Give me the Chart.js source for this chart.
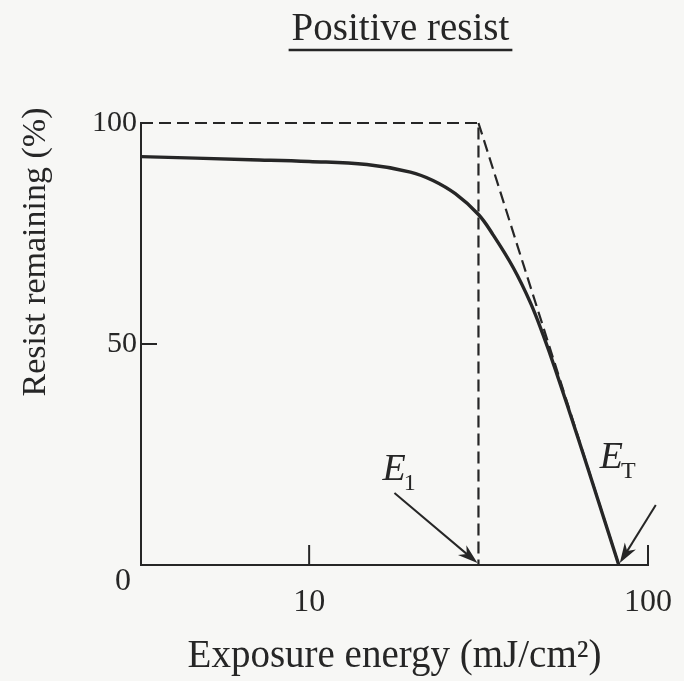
<!DOCTYPE html>
<html>
<head>
<meta charset="utf-8">
<script src="https://cdn.jsdelivr.net/npm/chart.js@4.4.1/dist/chart.umd.min.js"></script>
<style>
  html, body { margin: 0; padding: 0; background: #f7f7f5; }
  #wrap { width: 684px; height: 681px; }
</style>
</head>
<body>
<div id="wrap"><canvas id="resist-chart" width="684" height="681"></canvas></div>
<script>
// Exposure energy (mJ/cm^2) vs. resist thickness left after development (%)
const energy    = [3.19, 6.7, 10, 14.8, 19.9, 23.2, 27.0, 31.6, 34.9, 40.0, 45.0, 49.0, 53.3, 62.3, 71.2, 82.0];
const remaining = [92.4, 91.7, 91.3, 90.6, 88.9, 87.0, 84.0, 79.3, 74.7, 67.3, 59.3, 52.1, 44.2, 28.5, 14.7, 0];

// E1: onset of clearing, ET: dose to clear
const E1 = 31.6;
const ET = 82;

// ideal step response and the straight-line contrast fit
const idealEnergy    = [3.19, E1, E1];
const idealRemaining = [100, 100, 0];
const fitEnergy      = [E1, ET];
const fitRemaining   = [100, 0];

const xTicks = [10, 100];
const yTicks = [0, 50, 100];
const xRange = [3.19, 100];
const yRange = [0, 100];

const INK = '#262626';
const SERIF = '"Liberation Serif", "DejaVu Serif", serif';

function toPoints(xs, ys) {
  return xs.map((x, i) => ({ x: x, y: ys[i] }));
}

function drawArrow(ctx, x0, y0, x1, y1) {
  const ang = Math.atan2(y1 - y0, x1 - x0);
  const len = 20, half = 6.5, notch = 6;
  ctx.beginPath();
  ctx.moveTo(x0, y0);
  ctx.lineTo(x1 - Math.cos(ang) * notch, y1 - Math.sin(ang) * notch);
  ctx.lineWidth = 2;
  ctx.stroke();
  ctx.save();
  ctx.translate(x1, y1);
  ctx.rotate(ang);
  ctx.beginPath();
  ctx.moveTo(0, 0);
  ctx.lineTo(-len, -half);
  ctx.lineTo(-len + notch, 0);
  ctx.lineTo(-len, half);
  ctx.closePath();
  ctx.fill();
  ctx.restore();
}

function drawEnergyLabel(ctx, x, y, sub) {
  ctx.textAlign = 'left';
  ctx.textBaseline = 'alphabetic';
  ctx.font = 'italic 38px ' + SERIF;
  ctx.fillText('E', x, y);
  const w = ctx.measureText('E').width;
  ctx.font = '24px ' + SERIF;
  ctx.fillText(sub, x + w - 2, y + 10);
}

// inner tick marks, the shared "0", headings and the E1 / ET arrows
const decorations = {
  id: 'decorations',
  afterDraw(chart) {
    const { ctx, chartArea, scales: { x, y } } = chart;
    ctx.save();
    ctx.strokeStyle = INK;
    ctx.fillStyle = INK;
    ctx.lineWidth = 2;

    xTicks.forEach(v => {
      const px = x.getPixelForValue(v);
      ctx.beginPath();
      ctx.moveTo(px, chartArea.bottom);
      ctx.lineTo(px, chartArea.bottom - 20);
      ctx.stroke();
    });
    yTicks.filter(v => v > yRange[0] && v < yRange[1]).forEach(v => {
      const py = y.getPixelForValue(v);
      ctx.beginPath();
      ctx.moveTo(chartArea.left, py);
      ctx.lineTo(chartArea.left + 16, py);
      ctx.stroke();
    });

    ctx.font = '32px ' + SERIF;
    ctx.textAlign = 'center';
    ctx.textBaseline = 'middle';
    ctx.fillText('0', chartArea.left - 18, y.getPixelForValue(0) + 17);

    // y axis title, set a little above the axis middle
    ctx.save();
    ctx.translate(36, 252);
    ctx.rotate(-Math.PI / 2);
    ctx.font = '34px ' + SERIF;
    ctx.fillText('Resist remaining (%)', 0, 0);
    ctx.restore();

    // heading
    const title = 'Positive resist';
    ctx.font = '39px ' + SERIF;
    ctx.textBaseline = 'alphabetic';
    const cx = (chartArea.left + chartArea.right) / 2 + 6;
    ctx.fillText(title, cx, 40);
    const tw = ctx.measureText(title).width;
    ctx.lineWidth = 2.5;
    ctx.beginPath();
    ctx.moveTo(cx - tw / 2 - 3, 50);
    ctx.lineTo(cx + tw / 2 + 3, 50);
    ctx.stroke();

    // E1 and ET markers
    const base = y.getPixelForValue(0);
    const e1 = x.getPixelForValue(E1);
    const et = x.getPixelForValue(ET);
    drawArrow(ctx, e1 - 84, base - 72, e1 - 1, base - 2);
    drawArrow(ctx, et + 37, base - 60, et + 1, base - 2);
    drawEnergyLabel(ctx, e1 - 96, base - 85, '1');
    drawEnergyLabel(ctx, et - 19, base - 97, 'T');
    ctx.restore();
  }
};

new Chart(document.getElementById('resist-chart'), {
  type: 'line',
  data: {
    datasets: [
      {
        label: 'Measured',
        data: toPoints(energy, remaining),
        borderColor: INK,
        borderWidth: 3.4,
        pointRadius: 0,
        tension: 0.4,
        clip: false
      },
      {
        label: 'Ideal',
        data: toPoints(idealEnergy, idealRemaining),
        borderColor: INK,
        borderWidth: 2.2,
        borderDash: [12, 6],
        pointRadius: 0,
        clip: false
      },
      {
        label: 'Contrast fit',
        data: toPoints(fitEnergy, fitRemaining),
        borderColor: INK,
        borderWidth: 2.2,
        borderDash: [12, 6],
        pointRadius: 0,
        clip: false
      }
    ]
  },
  options: {
    responsive: false,
    animation: false,
    events: [],
    layout: { padding: { top: 123, right: 36, bottom: 0, left: 0 } },
    plugins: {
      legend: { display: false },
      tooltip: { enabled: false }
    },
    scales: {
      x: {
        type: 'logarithmic',
        min: xRange[0],
        max: xRange[1],
        afterBuildTicks: s => { s.ticks = xTicks.map(v => ({ value: v })); },
        afterFit: s => {
          s.height = 116;
          s.paddingLeft = 0;
          s.paddingRight = 0;
        },
        grid: { display: false, drawTicks: false },
        border: { display: true, color: INK, width: 2 },
        ticks: {
          color: INK,
          font: { family: SERIF, size: 32 },
          padding: 18,
          maxRotation: 0,
          autoSkip: false,
          callback: v => String(v)
        },
        title: {
          display: true,
          text: 'Exposure energy (mJ/cm²)',
          color: INK,
          font: { family: SERIF, size: 39 },
          padding: { top: 0, bottom: 1 }
        }
      },
      y: {
        min: yRange[0],
        max: yRange[1],
        afterBuildTicks: s => { s.ticks = yTicks.map(v => ({ value: v })); },
        afterFit: s => { s.width = 141; },
        grid: { display: false, drawTicks: false },
        border: { display: true, color: INK, width: 2 },
        ticks: {
          color: INK,
          font: { family: SERIF, size: 30 },
          padding: 4,
          callback: v => (v === 0 ? '' : String(v))
        }
      }
    }
  },
  plugins: [decorations]
});
</script>
</body>
</html>
